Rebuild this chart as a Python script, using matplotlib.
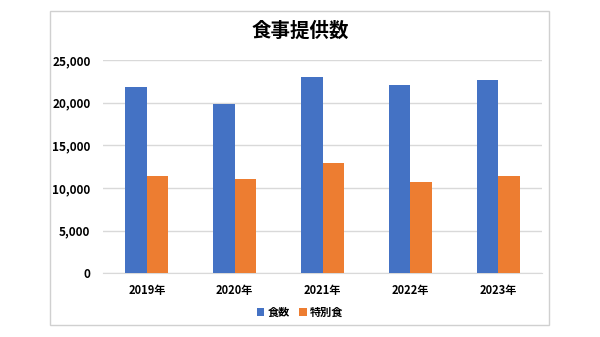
import matplotlib
matplotlib.use("Agg")
import matplotlib.pyplot as plt
from matplotlib.patches import Rectangle
import numpy as np

plt.rcParams["font.family"] = ["Noto Sans CJK JP", "DejaVu Sans"]

years = ["2019年", "2020年", "2021年", "2022年", "2023年"]
meals = [21800, 19900, 23000, 22100, 22650]
special = [11400, 11050, 12900, 10700, 11400]
series_names = ["食数", "特別食"]
yticks = [0, 5000, 10000, 15000, 20000, 25000]

blue = "#4472C4"
orange = "#ED7D31"
grid_c = "#D9D9D9"

fig = plt.figure(figsize=(6, 3.37), dpi=100)
fig.patches.append(Rectangle((50 / 600, 12 / 337), 499 / 600, 314 / 337,
                             transform=fig.transFigure, fill=False,
                             edgecolor="#D0D0D0", linewidth=1.0))

ax = fig.add_axes([103 / 600, 63.7 / 337, 439 / 600, 213.3 / 337])
x = np.arange(len(years))
bw = 0.245
ax.bar(x - bw / 2, meals, bw, color=blue, label=series_names[0], zorder=3)
ax.bar(x + bw / 2, special, bw, color=orange, label=series_names[1], zorder=3)

ax.set_xlim(-0.5, len(years) - 0.5)
ax.set_ylim(0, 25000)
ax.set_yticks(yticks)
ax.set_yticklabels([f"{v:,}" for v in yticks], fontsize=8.5, fontweight="bold")
ax.set_xticks(x)
ax.set_xticklabels(years, fontsize=8, fontweight="bold")
ax.tick_params(axis="y", length=0, pad=9)
ax.tick_params(axis="x", length=0, pad=8)
ax.grid(axis="y", color=grid_c, linewidth=1.0, zorder=0)
for s in ["top", "left", "right"]:
    ax.spines[s].set_visible(False)
ax.spines["bottom"].set_color(grid_c)

fig.text(0.5, 1 - 31.5 / 337, "食事提供数", ha="center", va="center",
         fontsize=14, fontweight="bold")
fig.legend(loc="center", bbox_to_anchor=(0.5, 1 - 312.5 / 337), ncol=2,
           frameon=False, handlelength=0.7, handleheight=0.7,
           handletextpad=0.3, columnspacing=0.8,
           prop={"weight": "bold", "size": 8})

fig.savefig("out.png", dpi=100)
